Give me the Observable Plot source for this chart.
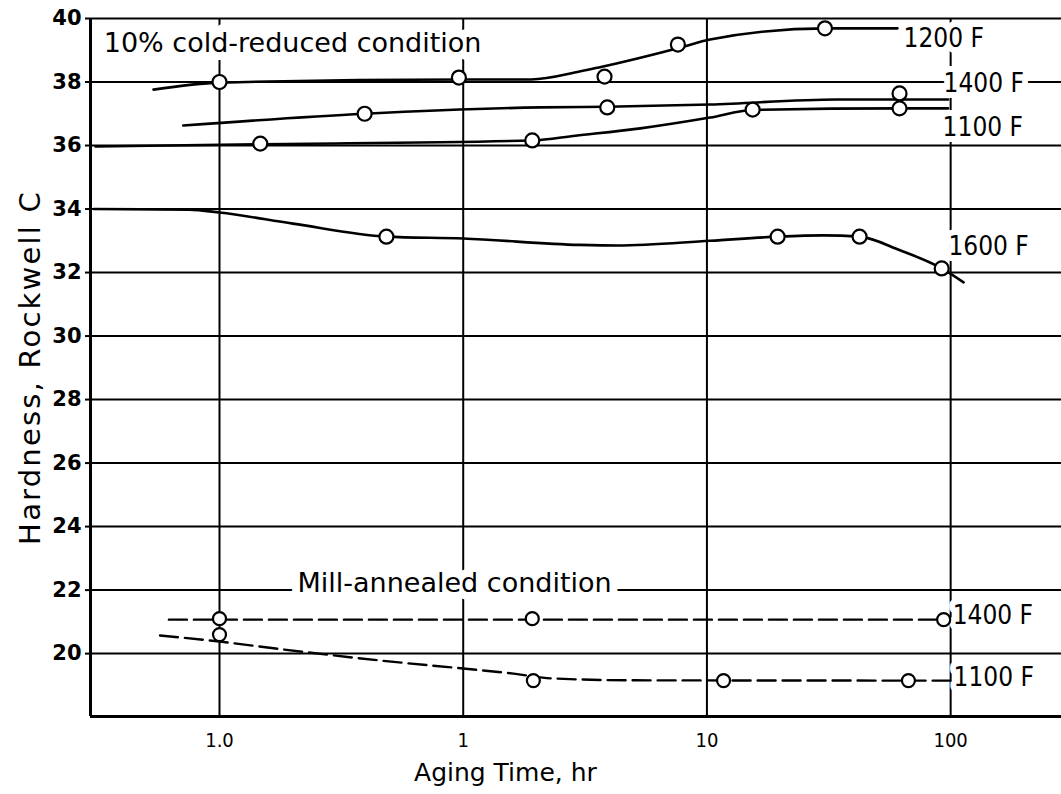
<!DOCTYPE html>
<html>
<head>
<meta charset="utf-8">
<script src="https://cdn.jsdelivr.net/npm/d3@7"></script>
<script src="https://cdn.jsdelivr.net/npm/@observablehq/plot@0.6"></script>
<style>
  body { margin: 0; background: #fff; }
  #chart svg { display: block; }
  .ylab text { letter-spacing: 2.2px; }
</style>
</head>
<body>
<div id="chart"></div>
<script>
// ---- Axes ----
const xTicks = [0.1, 1, 10, 100];
const xTickLabels = ["1.0", "1", "10", "100"];
const yTicks = [20, 22, 24, 26, 28, 30, 32, 34, 36, 38, 40];
const xLabel = "Aging Time, hr";
const yLabel = "Hardness, Rockwell C";

// ---- 10% cold-reduced condition: curves (time hr, hardness) ----
const cr1200CurveT = [0.0536, 0.1, 1.0, 1.9, 3.0, 3.6, 7.8, 10.3, 31, 60.5];
const cr1200CurveH = [37.76, 37.98, 38.08, 38.08, 38.33, 38.46, 39.09, 39.34, 39.69, 39.69];
const cr1200PtsT = [0.1, 0.96, 3.8, 7.6, 30.5];
const cr1200PtsH = [38.0, 38.14, 38.17, 39.18, 39.69];

const cr1400CurveT = [0.071, 0.394, 2.07, 3.9, 10.3, 34, 97.6];
const cr1400CurveH = [36.63, 37.0, 37.2, 37.22, 37.29, 37.45, 37.45];
const cr1400PtsT = [0.394, 3.9, 61.7];
const cr1400PtsH = [37.0, 37.2, 37.64];

const cr1100CurveT = [0.031, 0.147, 1.92, 2.89, 5.33, 10.3, 15.4, 61.7, 97.6];
const cr1100CurveH = [35.97, 36.04, 36.16, 36.31, 36.54, 36.88, 37.12, 37.17, 37.17];
const cr1100PtsT = [0.147, 1.92, 15.4, 61.7];
const cr1100PtsH = [36.06, 36.16, 37.13, 37.17];

const cr1600CurveT = [0.0305, 0.075, 0.1, 0.2, 0.484, 1.0, 3.0, 4.3, 10.3, 19.5, 30, 42.3, 62, 91.9, 113];
const cr1600CurveH = [34.0, 33.98, 33.89, 33.54, 33.13, 33.07, 32.87, 32.85, 33.0, 33.13, 33.17, 33.13, 32.7, 32.13, 31.69];
const cr1600PtsT = [0.484, 19.5, 42.3, 91.9];
const cr1600PtsH = [33.13, 33.13, 33.13, 32.13];

// ---- Mill-annealed condition ----
const ma1400CurveT = [0.062, 94];
const ma1400CurveH = [21.07, 21.07];
const ma1400PtsT = [0.1, 1.92, 93.6];
const ma1400PtsH = [21.1, 21.1, 21.07];

const ma1100CurveT = [0.057, 0.1, 0.17, 0.46, 1.0, 1.61, 2.3, 5, 100];
const ma1100CurveH = [20.57, 20.38, 20.16, 19.78, 19.53, 19.37, 19.22, 19.16, 19.15];
const ma1100PtsT = [0.1, 1.94, 11.7, 67.1];
const ma1100PtsH = [20.6, 19.15, 19.15, 19.15];

// ---- Labels ----
const tempLabels = ["1200 F", "1400 F", "1100 F", "1600 F", "1400 F", "1100 F"];
const tempLabelT = [64.1, 93.5, 92.7, 97.9, 101.9, 102.8];
const tempLabelH = [39.37, 37.95, 36.57, 32.82, 21.2, 19.24];
const noteLabels = ["10% cold-reduced condition", "Mill-annealed condition"];
const noteLabelT = [0.0335, 0.209];
const noteLabelH = [39.21, 22.2];

// ---- build tables ----
const rows = (T, H) => T.map((t, i) => ({t, h: H[i]}));
const solidCurves = [
  rows(cr1200CurveT, cr1200CurveH),
  rows(cr1400CurveT, cr1400CurveH),
  rows(cr1100CurveT, cr1100CurveH),
  rows(cr1600CurveT, cr1600CurveH)
];
const dashedCurves = [
  rows(ma1400CurveT, ma1400CurveH),
  rows(ma1100CurveT, ma1100CurveH)
];
const crPts = [].concat(
  rows(cr1200PtsT, cr1200PtsH), rows(cr1400PtsT, cr1400PtsH),
  rows(cr1100PtsT, cr1100PtsH), rows(cr1600PtsT, cr1600PtsH));
const maPts = [].concat(rows(ma1400PtsT, ma1400PtsH), rows(ma1100PtsT, ma1100PtsH));
const tempRows = tempLabels.map((s, i) => ({s, t: tempLabelT[i], h: tempLabelH[i]}));
const noteRows = noteLabels.map((s, i) => ({s, t: noteLabelT[i], h: noteLabelH[i]}));

const xDomain = [0.02956, 285];
const yDomain = [18.02, 40];
const font = "DejaVu Sans, Noto Sans, sans-serif";
const narrow = "'DejaVu Sans Condensed', 'Liberation Sans Narrow', 'DejaVu Sans', sans-serif";

const marks = [
  // grid
  Plot.ruleY(yTicks, {stroke: "black", strokeWidth: 2}),
  Plot.ruleX(xTicks, {stroke: "black", strokeWidth: 2}),
  // labels with white halo (mask gridlines only)
  Plot.text(tempRows, {x: "t", y: "h", text: "s", textAnchor: "start", fontSize: 26, fontFamily: narrow,
    fill: "black", stroke: "white", strokeWidth: 12}),
  Plot.text(noteRows, {x: "t", y: "h", text: "s", textAnchor: "start", fontSize: 27, fontFamily: font,
    fill: "black", stroke: "white", strokeWidth: 16}),
  // frame: left and bottom
  Plot.ruleX([xDomain[0]], {stroke: "black", strokeWidth: 3}),
  Plot.ruleY([yDomain[0]], {stroke: "black", strokeWidth: 3}),
  // curves
  ...solidCurves.map(d => Plot.line(d, {x: "t", y: "h", curve: "monotone-x", stroke: "black", strokeWidth: 2.6})),
  ...dashedCurves.map(d => Plot.line(d, {x: "t", y: "h", curve: "monotone-x", stroke: "black", strokeWidth: 2.4, strokeDasharray: "18,7"})),
  // points
  Plot.dot(crPts, {x: "t", y: "h", r: 7, fill: "white", stroke: "black", strokeWidth: 2.2}),
  Plot.dot(maPts, {x: "t", y: "h", r: 6.5, fill: "white", stroke: "black", strokeWidth: 2.2}),
  // axes
  Plot.axisY({ticks: yTicks, tickSize: 5, tickPadding: 4, fontSize: 21, fontWeight: "bold", fontFamily: font, label: null, strokeWidth: 2}),
  Plot.axisX({ticks: xTicks, tickFormat: d => xTickLabels[xTicks.indexOf(d)], tickSize: 0, tickPadding: 16,
    fontSize: 20, fontFamily: narrow, label: null}),
  // axis titles
  Plot.text([yLabel], {frameAnchor: "left", textAnchor: "middle", lineAnchor: "middle", rotate: -90, dx: -60, fontSize: 29, fontFamily: font,
    fill: "black", text: d => d, className: "ylab"}),
  Plot.text([xLabel], {x: () => 1.49, frameAnchor: "bottom", textAnchor: "middle", lineAnchor: "middle", dy: 56, fontSize: 25, fontFamily: font,
    fill: "black", text: d => d})
];

const chart = Plot.plot({
  width: 1061,
  height: 794,
  marginLeft: 90,
  marginRight: 0,
  marginTop: 18,
  marginBottom: 78,
  style: {fontFamily: font, background: "white", color: "black"},
  x: {type: "log", domain: xDomain},
  y: {domain: yDomain},
  marks
});
document.getElementById("chart").appendChild(chart);
</script>
</body>
</html>
